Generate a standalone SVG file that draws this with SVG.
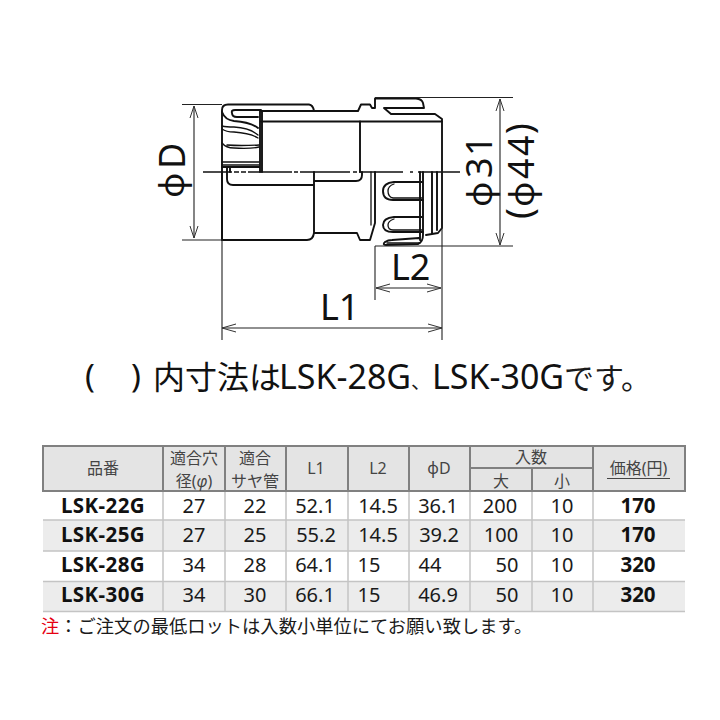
<svg xmlns="http://www.w3.org/2000/svg" width="720" height="720" viewBox="0 0 720 720">
<style>
text{font-family:"Noto Sans","Noto Sans CJK JP",sans-serif;fill:#1a1a1a}
.t{text-anchor:middle;font-size:20px}
.b{text-anchor:middle;font-size:20.500px;font-weight:700;fill:#111}
.h{text-anchor:middle;font-size:16px;fill:#444}
.d{font-size:36px;fill:#111}
.f{font-size:35px;fill:#111}
.p{font-size:33px;fill:#111}
.o{font-size:34px;fill:#111}
.c{font-size:32px;fill:#111}
.k{fill:none;stroke:#111;stroke-width:1.9;stroke-linecap:round;stroke-linejoin:round}
.m{fill:none;stroke:#111;stroke-width:1.3;stroke-linecap:round;stroke-linejoin:round}
.n{fill:none;stroke:#222;stroke-width:1.1}
.a{fill:none;stroke:#333;stroke-width:1}
.g{stroke:#808080;stroke-width:2;fill:none}
.l{stroke:#c4c4c4;stroke-width:1.5;fill:none}
</style>
<rect width="720" height="720" fill="#fff"/>
<g id="connector-body">
<path class="k" d="M222 240V110Q222 104.500 228 104.500H309Q313 105 314 111"/>
<path class="k" d="M261 111H358L361 104.500H370L372 108H375V98.500H416Q422 99 423 103L424 108H384L391 114H435L442 119V122M261 121.500H442"/>
<path class="k" d="M261 110H235Q231 110 232 113Q232 117 237 117H258"/>
<path class="k" d="M222 112Q225 120 234 121Q250 122 258 128"/>
<path class="m" d="M222 126Q226 127 234 127Q250 128 258 135M222 129Q226 132 234 132Q250 133 258 138M222 143Q226 148 234 148Q250 149 259 147M227 145Q240 146 259 145M222 162H259M222 165H259"/>
<path class="k" d="M222 167H260M260 111V172M262 111V172M230 167V172M227 167V179Q227 185 233 185H313"/>
<path class="k" d="M222 172V240M223 240H307Q313 240 314 233V172M315 181H356Q362 181 362 175V172M314 233H357L360 240H370L375 223V172M360 121.500V172"/>
<path class="m" d="M371 172V225"/>
<path class="k" d="M420 172V240M423 172V235Q423 242 418 244L386 245Q382 245 385 242Q388 240 392 240L419 238M432 172V233M437 172V230M442 122V228L438 233L426 235"/>
<path class="k" d="M422 182H394Q383 183 383 191Q383 200 393 200H423M422 217H394Q383 218 383 225Q383 232 393 232H423"/>
<path class="m" d="M394 184Q388 186 388 191Q388 197 393 198H422M394 219Q388 221 388 225Q388 230 393 230H422M387 243H420"/>
</g>
<g id="connectors">
<path d="M203 172H232M234 172H239M241 172H246M248 172H292M294 172H298M300 172H350M353 172H357M359 172H403M410 172H413M418 172H460" fill="none" stroke="#111" stroke-width="1.300"/>
<path class="n" d="M182 104.500H222M182 240H222M375 97.500H513M375 246H513M222 240V340M442 122V340M375 246V300"/>
<path class="n" d="M194 106V238M222 328H442M376 288H441M500 99V245"/>
<path class="a" d="M190 118L194 106L198 118M190 226L194 238L198 226M236 324L222 328L236 332M428 324L442 328L428 332M390 284L376 288L390 292M427 284L441 288L427 292M496 111L500 99L504 111M496 233L500 245L504 233"/>
</g>
<g id="dim-labels">
<text class="f" transform="translate(184 0) rotate(-90)" x="-198">φ</text>
<text class="d" transform="translate(185 0) rotate(-90)" x="-169">D</text>
<text class="d" x="320" y="320">L1</text>
<text class="d" x="391" y="280">L2</text>
<text class="f" transform="translate(492 0) rotate(-90)" x="-207">φ</text>
<text class="d" transform="translate(492 0) rotate(-90)" x="-178 -156">31</text>
<text class="f" transform="translate(534 0) rotate(-90)" x="-207">φ</text>
<text class="d" transform="translate(534 0) rotate(-90)" x="-179 -156">44</text>
<text class="d" transform="translate(532 0) rotate(-90)" x="-219">(</text>
<text class="d" transform="translate(532 0) rotate(-90)" x="-134">)</text>
</g>
<g id="note-top">
<text class="p" x="85" y="388">(</text><text class="p" x="131" y="388">)</text>
<text class="c" x="153" y="389">内寸法は</text>
<text class="o" x="279" y="389">LSK-28G</text>
<text x="411" y="389" font-size="20" fill="#111">、</text>
<text class="o" x="432" y="389">LSK-30G</text>
<text x="564" y="389" font-size="30" fill="#111">です。</text>
</g>
<g id="table">
<rect x="43" y="446" width="642" height="45" fill="#e4e4e4"/>
<rect x="43" y="520" width="642" height="31" fill="#ececec"/>
<rect x="43" y="581" width="642" height="31" fill="#ececec"/>
<path class="l" d="M43 520H685M43 551H685M43 581.500H685M43 611.500H685M163 491V612M225 491V612M286 491V612M348 491V612M409 491V612M470 491V612M532 491V612M593 491V612"/>
<path class="g" d="M43 446H685V491H43ZM163 446V491M225 446V491M286 446V491M348 446V491M409 446V491M470 446V491M593 446V491M470 468H593M532 468V491"/>
<text class="h" x="103" y="474">品番</text>
<text class="h" x="194" y="464">適合穴</text><text class="h" x="194" y="487">径(<tspan font-style="italic">φ</tspan>)</text>
<text class="h" x="255" y="464">適合</text><text class="h" x="255" y="487">サヤ管</text>
<text class="h" x="316" y="474">L1</text><text class="h" x="378" y="474">L2</text><text class="h" x="439" y="474">φD</text>
<text class="h" x="531" y="463">入数</text><text class="h" x="501" y="487">大</text><text class="h" x="562" y="487">小</text>
<text class="h" x="638.500" y="474">価格(円)</text>
<path d="M607 478.500H670" stroke="#444" stroke-width="1"/>
<text class="b" x="103" y="513" letter-spacing=".4">LSK-22G</text><text class="t" x="194" y="513">27</text><text class="t" x="255" y="513">22</text><text class="t" x="315" y="513">52.1</text><text class="t" x="378" y="513">14.5</text><text class="t" x="438" y="513">36.1</text><text class="t" x="500" y="513">200</text><text class="t" x="562" y="513">10</text><text class="b" x="638" y="513">170</text>
<text class="b" x="103" y="542" letter-spacing=".4">LSK-25G</text><text class="t" x="194" y="542">27</text><text class="t" x="255" y="542">25</text><text class="t" x="316" y="542">55.2</text><text class="t" x="378" y="542">14.5</text><text class="t" x="439" y="542">39.2</text><text class="t" x="501" y="542">100</text><text class="t" x="562" y="542">10</text><text class="b" x="638" y="542">170</text>
<text class="b" x="103" y="572" letter-spacing=".4">LSK-28G</text><text class="t" x="194" y="572">34</text><text class="t" x="255" y="572">28</text><text class="t" x="315" y="572">64.1</text><text class="t" x="369" y="572">15</text><text class="t" x="430" y="572">44</text><text class="t" x="507" y="572">50</text><text class="t" x="562" y="572">10</text><text class="b" x="638" y="572">320</text>
<text class="b" x="103" y="602" letter-spacing=".4">LSK-30G</text><text class="t" x="194" y="602">34</text><text class="t" x="255" y="602">30</text><text class="t" x="315" y="602">66.1</text><text class="t" x="369" y="602">15</text><text class="t" x="438" y="602">46.9</text><text class="t" x="507" y="602">50</text><text class="t" x="562" y="602">10</text><text class="b" x="638" y="602">320</text>
</g>
<g id="footnote"><text x="41" y="633" font-size="18.300"><tspan fill="#e60012">注</tspan>：ご注文の最低ロットは入数小単位にてお願い致します。</text></g>
</svg>
